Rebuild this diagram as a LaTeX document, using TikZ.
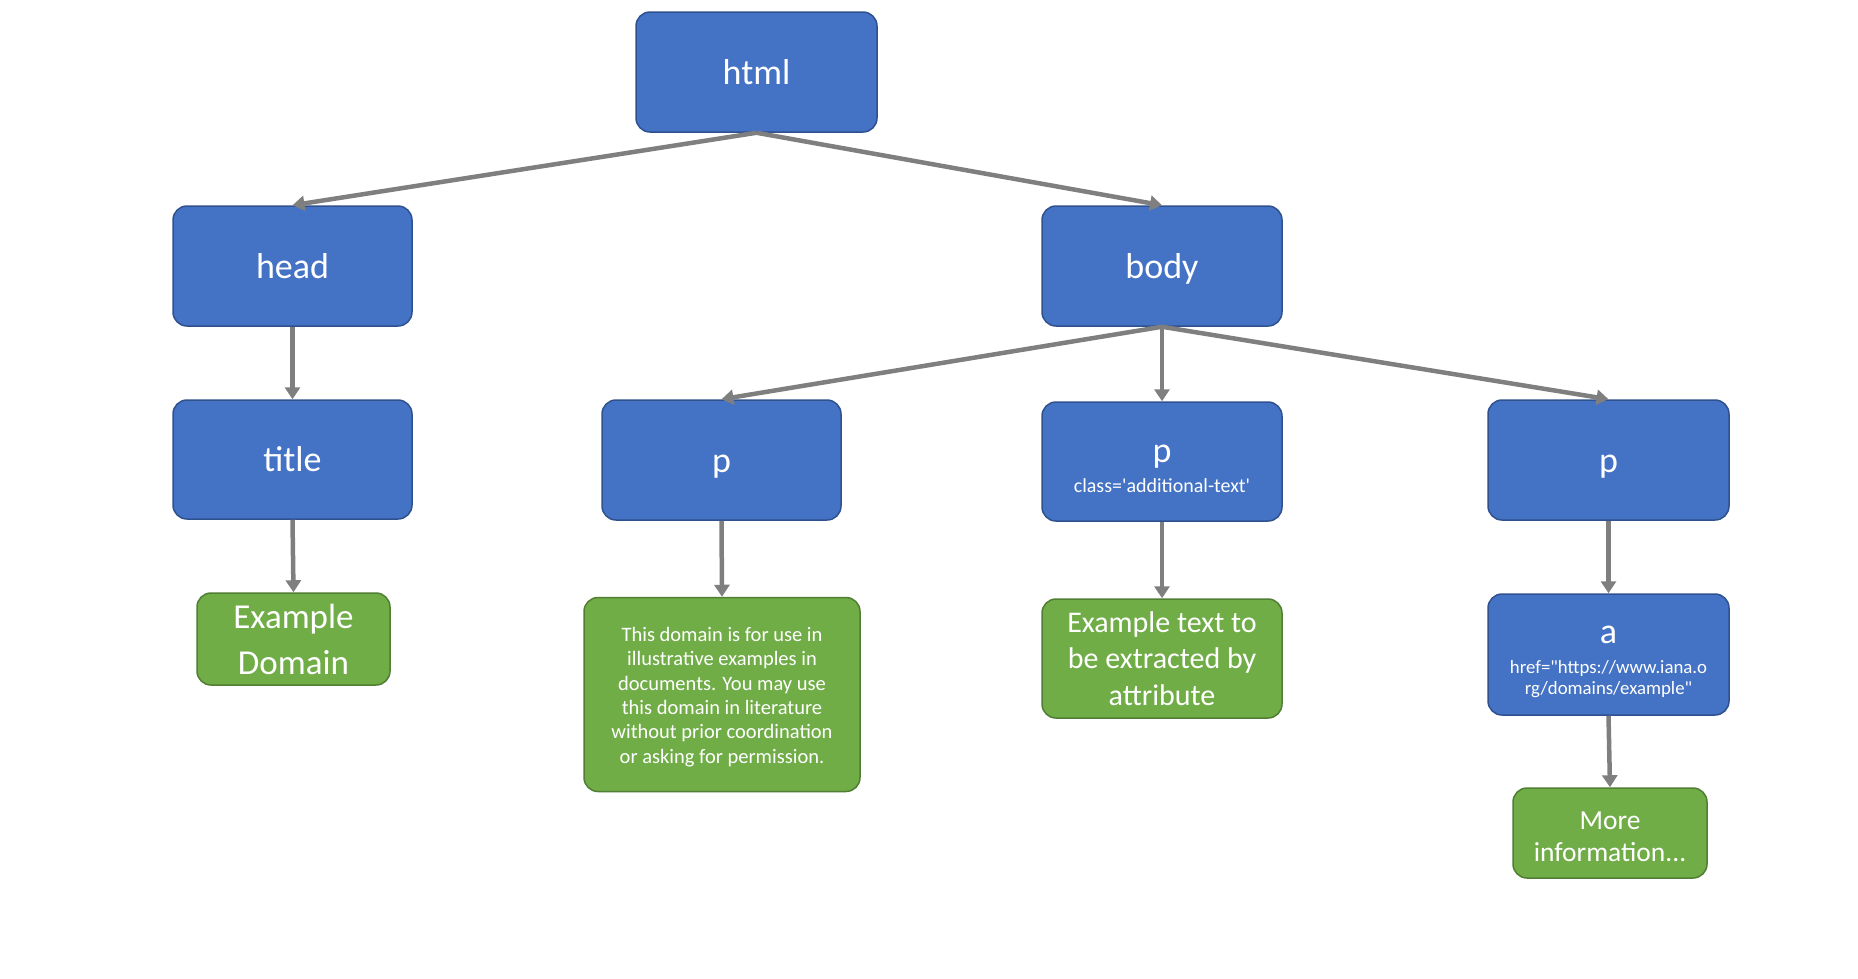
\documentclass[tikz,border=0pt]{standalone}
\usepackage{fontspec}
\setmainfont{Carlito}
\newfontfamily\plainfont{Carlito}[Ligatures=TeXOff]
\usetikzlibrary{arrows.meta}
\definecolor{bfill}{HTML}{4472C4}
\definecolor{bdraw}{HTML}{2F528F}
\definecolor{gfill}{HTML}{70AD47}
\definecolor{gdraw}{HTML}{507E32}
\definecolor{arrgray}{HTML}{7F7F7F}
\tikzset{
  bluebox/.style={draw=bdraw, fill=bfill, line width=1.5pt, rounded corners=14pt, text=white, align=center, inner sep=0pt},
  greenbox/.style={draw=gdraw, fill=gfill, line width=1.5pt, rounded corners=14pt, text=white, align=center, inner sep=0pt},
  big/.style={font=\fontsize{36}{44}\selectfont, text height=31pt, text depth=7pt},
  txt/.style={text=white, inner sep=0pt, anchor=base, align=center},
  ctxt/.style={text=white, inner sep=0pt, anchor=center, align=center}
  ,arr/.style={draw=arrgray, line width=4.5pt, -{Triangle[width=15pt,length=12pt]}}
}
\begin{document}
\begin{tikzpicture}[x=1pt,y=-1pt]
\useasboundingbox (0,0) rectangle (1858,978);
% level 0
\node[bluebox, big, minimum width=241pt, minimum height=120pt] (html) at (756.5,72) {html};
% level 1
\node[bluebox, big, minimum width=239pt, minimum height=120pt] (head) at (292.5,266) {head};
\node[bluebox, big, minimum width=240pt, minimum height=120pt] (body) at (1162,266) {body};
% level 2
\node[bluebox, big, minimum width=239pt, minimum height=119pt] (title) at (292.5,459.5) {title};
\node[bluebox, big, minimum width=239pt, minimum height=120pt] (p1) at (721.5,460) {p};
\node[bluebox, minimum width=240pt, minimum height=119pt] (p2) at (1162,461.5) {};
\node[txt, font=\fontsize{36}{44}\selectfont] (p2a) at (1162,462) {p};
\node[txt, font=\plainfont\fontsize{20}{24}\selectfont] (p2b) at (1162,492) {class='additional-text'};
\node[bluebox, big, minimum width=241pt, minimum height=120pt] (p3) at (1608.5,460) {p};
% level 3
\node[greenbox, font=\fontsize{35}{46}\selectfont, minimum width=193pt, minimum height=92pt] (exdom) at (293.5,639) {Example\\Domain};
\node[greenbox, minimum width=276pt, minimum height=194pt] (long) at (722,694.5) {};
\node[ctxt, font=\fontsize{20.5}{24.4}\selectfont] (longt) at (722,697) {This domain is for use in\\illustrative examples in\\documents. You may use\\this domain in literature\\without prior coordination\\or asking for permission.};
\node[greenbox, font=\fontsize{30}{36.5}\selectfont, minimum width=240pt, minimum height=119pt] (extext) at (1162,658.5) {Example text to\\be extracted by\\attribute};
\node[bluebox, minimum width=241pt, minimum height=121pt] (a) at (1608.5,654.5) {};
\node[txt, font=\fontsize{36}{44}\selectfont] (aa) at (1608.5,643) {a};
\node[txt, font=\plainfont\fontsize{18.8}{20.7}\selectfont] (ab) at (1608.5,694) {href="https://www.iana.o\\rg/domains/example"};
% level 4
\node[greenbox, minimum width=194pt, minimum height=90pt] (more) at (1610,833) {};
\node[ctxt, font=\fontsize{27.5}{32}\selectfont] (moret) at (1610,836.5) {More\\information...};
% connectors
\draw[arr] (html.south) -- (head.north);
\draw[arr] (html.south) -- (body.north);
\draw[arr] (head.south) -- (title.north);
\draw[arr] (title.south) -- (exdom.north);
\draw[arr] (body.south) -- (p1.north);
\draw[arr] (body.south) -- (p2.north);
\draw[arr] (body.south) -- (p3.north);
\draw[arr] (p1.south) -- (long.north);
\draw[arr] (p2.south) -- (extext.north);
\draw[arr] (p3.south) -- (a.north);
\draw[arr] (a.south) -- (more.north);
\end{tikzpicture}
\end{document}
